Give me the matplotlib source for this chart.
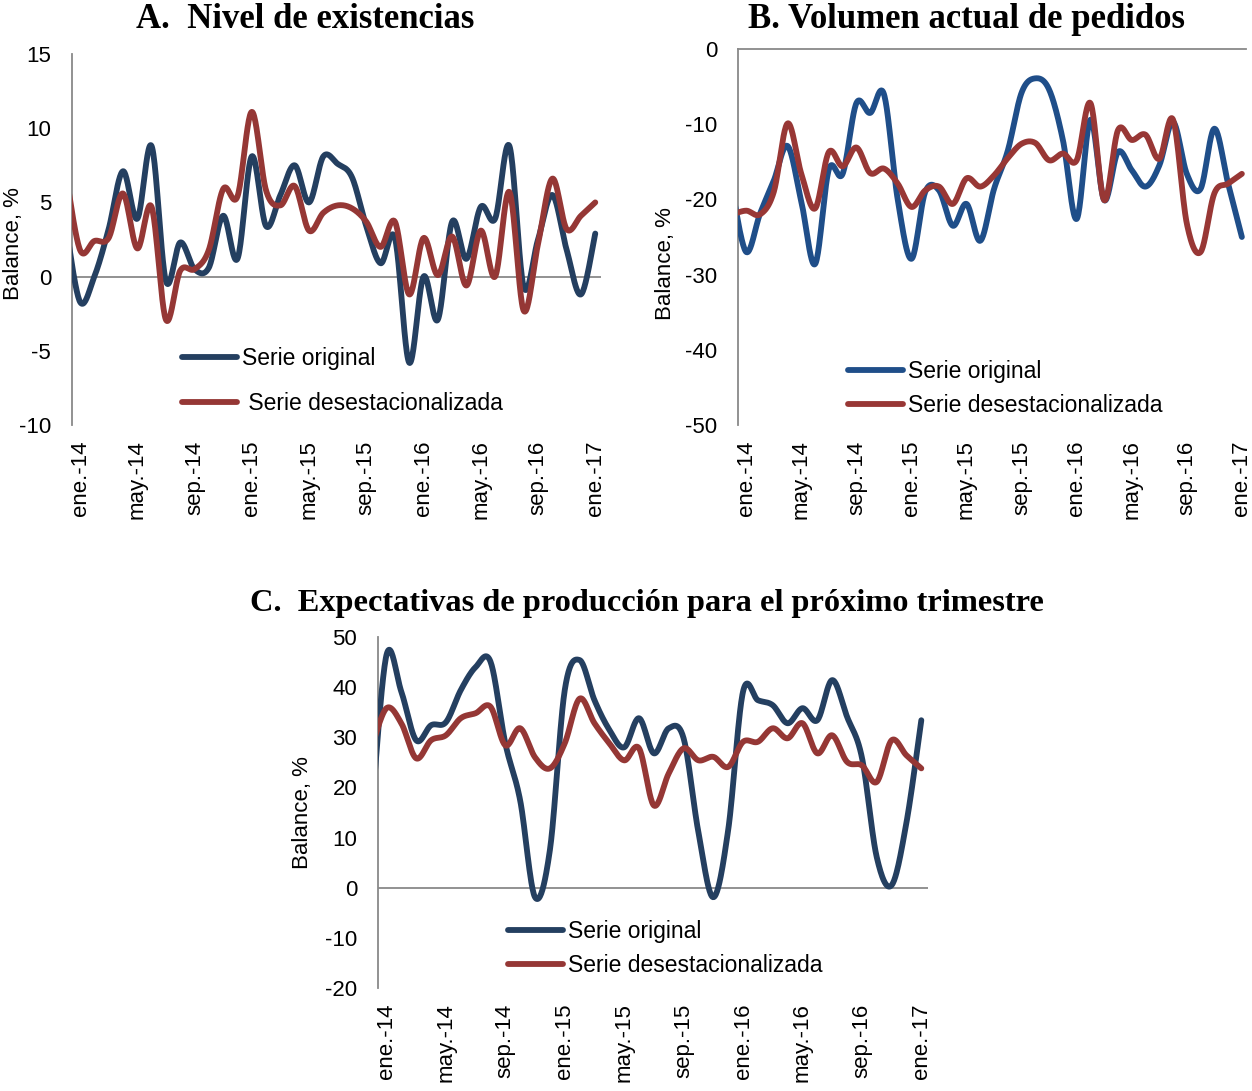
import numpy as np
import matplotlib
matplotlib.use('Agg')
import matplotlib.pyplot as plt

# meses: dic-13 (-1) ... ene-17 (36)
meses = np.arange(-1, 37)
tick_pos = list(range(0, 37, 4))
tick_lab = ['ene.-14', 'may.-14', 'sep.-14', 'ene.-15', 'may.-15',
            'sep.-15', 'ene.-16', 'may.-16', 'sep.-16', 'ene.-17']

# A. Nivel de existencias
a_original = [3.5, -1.7, 0.0, 3.2, 7.1, 3.9, 8.8, -0.3, 2.3, 0.5, 0.6, 4.1, 1.2,
              8.1, 3.4, 5.5, 7.5, 5.0, 8.1, 7.6, 6.7, 3.4, 0.9, 2.6, -5.8, 0.0,
              -2.9, 3.7, 1.2, 4.7, 3.9, 8.8, -0.7, 2.5, 5.5, 1.8, -1.2, 2.9]
a_desest = [7.0, 1.8, 2.4, 2.6, 5.6, 1.9, 4.7, -2.9, 0.4, 0.5, 1.8, 5.9, 5.4,
            11.1, 5.8, 4.8, 6.1, 3.1, 4.3, 4.8, 4.6, 3.7, 2.0, 3.7, -1.2, 2.6,
            0.1, 2.7, -0.6, 3.1, 0.0, 5.7, -2.3, 2.2, 6.6, 3.2, 4.1, 5.0]

# B. Volumen actual de pedidos
b_original = [-19.0, -27.0, -21.9, -17.5, -12.9, -20.3, -28.6, -16.0, -16.6, -7.2,
              -8.5, -6.0, -20.0, -27.9, -19.0, -18.8, -23.5, -20.6, -25.5, -18.6,
              -13.5, -5.8, -3.9, -5.4, -12.1, -22.6, -9.4, -20.1, -13.7, -16.1,
              -18.3, -15.5, -9.7, -16.6, -18.6, -10.6, -17.9, -25.0]
b_desest = [-22.0, -21.5, -22.0, -19.0, -9.9, -16.6, -21.2, -13.7, -15.6, -13.1,
            -16.5, -15.9, -17.9, -21.0, -18.8, -18.3, -20.6, -17.2, -18.3, -16.8,
            -14.5, -12.6, -12.5, -14.8, -13.9, -14.8, -7.2, -20.1, -10.8, -12.1,
            -11.4, -14.6, -9.4, -23.2, -27.0, -19.2, -17.9, -16.6]

# C. Expectativas de producción
c_original = [15.0, 46.4, 39.1, 29.4, 32.4, 33.0, 39.4, 44.0, 45.1, 28.8, 17.4,
              -1.9, 7.5, 39.4, 45.4, 37.4, 31.5, 28.0, 33.8, 26.8, 31.8, 29.8,
              11.0, -1.9, 11.5, 39.1, 37.4, 36.4, 32.8, 35.8, 33.4, 41.4, 34.1,
              26.0, 6.1, 0.5, 13.0, 33.4]
c_desest = [28.0, 35.8, 32.8, 25.8, 29.4, 30.4, 33.8, 34.8, 36.1, 28.4, 31.8,
            26.0, 23.8, 28.8, 37.7, 32.8, 28.8, 25.4, 27.8, 16.4, 22.8, 27.8,
            25.4, 26.1, 24.1, 29.1, 29.1, 31.8, 29.8, 32.8, 26.8, 30.4, 25.1,
            24.4, 21.1, 29.4, 26.4, 23.8]

GRIS = '#898989'
SANS = ['Liberation Sans', 'DejaVu Sans']
SERIF = ['Liberation Serif', 'DejaVu Serif']
plt.rcParams['font.family'] = SANS


def suavizar(x, y, n=24):
    # curva suavizada tipo Excel (Bezier / Catmull-Rom)
    pts = np.column_stack([x, y]).astype(float)
    P = np.vstack([pts[0], pts, pts[-1]])
    trozos = []
    t = np.linspace(0, 1, n, endpoint=False)[:, None]
    for i in range(1, len(P) - 2):
        p0, p1, p2, p3 = P[i - 1], P[i], P[i + 1], P[i + 2]
        c1 = p1 + (p2 - p0) / 6
        c2 = p2 - (p3 - p1) / 6
        trozos.append((1 - t) ** 3 * p1 + 3 * (1 - t) ** 2 * t * c1
                      + 3 * (1 - t) * t ** 2 * c2 + t ** 3 * p2)
    trozos.append(pts[-1:])
    return np.vstack(trozos)


def panel(rect, serie1, serie2, c1, c2, ylim, yticks, xlim, cero_arriba,
          lab1, lab2, leg_xy, leg_sp, ylab_xy):
    ax = fig.add_axes(rect)
    s1 = suavizar(meses, serie1)
    s2 = suavizar(meses, serie2)
    ax.plot(s1[:, 0], s1[:, 1], color=c1, lw=4.2, solid_capstyle='round',
            label=lab1, zorder=3)
    ax.plot(s2[:, 0], s2[:, 1], color=c2, lw=4.2, solid_capstyle='round',
            label=lab2, zorder=3)
    ax.set_xlim(*xlim)
    ax.set_ylim(*ylim)
    ax.set_yticks(yticks)
    ax.set_yticklabels([str(v) for v in yticks])
    ax.set_xticks(tick_pos)
    ax.set_xticklabels(tick_lab, rotation=90)
    ax.tick_params(axis='both', length=0, labelsize=16)
    ax.tick_params(axis='y', pad=15)
    ax.tick_params(axis='x', pad=11)
    for s in ['right', 'bottom', 'top']:
        ax.spines[s].set_visible(False)
    ax.spines['left'].set_color(GRIS)
    ax.spines['left'].set_linewidth(1.3)
    if cero_arriba:
        ax.spines['top'].set_visible(True)
        ax.spines['top'].set_color(GRIS)
        ax.spines['top'].set_linewidth(1.3)
    else:
        ax.axhline(0, color=GRIS, lw=1.3, zorder=2)
    ax.set_ylabel('Balance, %', fontsize=16)
    ax.yaxis.set_label_coords(*ylab_xy)
    ax.legend(loc='upper left', bbox_to_anchor=leg_xy,
              bbox_transform=fig.transFigure, frameon=False, fontsize=16.5,
              handlelength=2.4, handletextpad=0.2, borderpad=0,
              borderaxespad=0, labelspacing=leg_sp)
    return ax


fig = plt.figure(figsize=(12.52, 10.91), dpi=100)
W, H = 1252, 1091


def r(x0, y0, x1, y1):
    return [x0 / W, 1 - y1 / H, (x1 - x0) / W, (y1 - y0) / H]


panel(r(72, 54, 601, 425), a_original, a_desest, '#243F60', '#953735',
      (-10, 15), list(range(-10, 16, 5)), (-0.56, 36.4), False,
      'Serie original', ' Serie desestacionalizada',
      (182 / W, 1 - 347 / H), 0.95, (-0.09, 0.49))

panel(r(738, 49, 1246, 425), b_original, b_desest, '#1F4E89', '#983735',
      (-50, 0), list(range(-50, 1, 10)), (-0.6, 36.3), True,
      'Serie original', 'Serie desestacionalizada',
      (848 / W, 1 - 360 / H), 0.5, (-0.122, 0.43))

panel(r(378, 637, 928, 988), c_original, c_desest, '#243F60', '#953735',
      (-20, 50), list(range(-20, 51, 10)), (-0.57, 36.45), False,
      'Serie original', 'Serie desestacionalizada',
      (508 / W, 1 - 920 / H), 0.5, (-0.118, 0.5))

fig.text(305 / W, 1 - 19 / H, 'A.  Nivel de existencias', family=SERIF,
         fontweight='bold', fontsize=25, ha='center', va='center')
fig.text(966 / W, 1 - 19 / H, 'B. Volumen actual de pedidos', family=SERIF,
         fontweight='bold', fontsize=25, ha='center', va='center')
fig.text(647 / W, 1 - 604 / H, 'C.  Expectativas de producción para el próximo trimestre',
         family=SERIF, fontweight='bold', fontsize=23.3, ha='center', va='center')

fig.savefig('out.png', dpi=100)
